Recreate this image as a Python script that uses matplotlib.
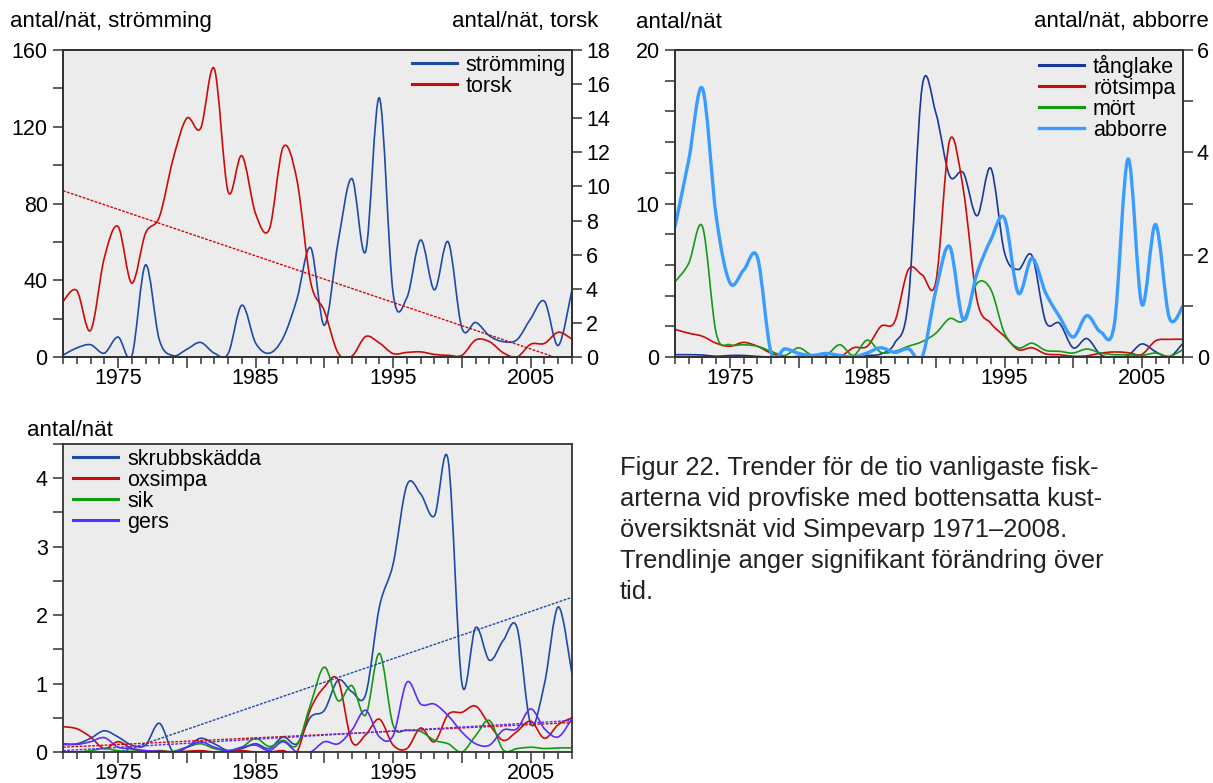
#!/usr/bin/env python
# -*- coding: utf-8 -*-
"""Fiskfångst per nät vid Simpevarp 1971-2008, tre paneler med trender."""

import matplotlib
matplotlib.use('Agg')
import matplotlib.pyplot as plt
from matplotlib.path import Path
from matplotlib.patches import PathPatch
from matplotlib.lines import Line2D

plt.rcParams['font.family'] = ['Liberation Sans', 'DejaVu Sans']

years = list(range(1971, 2009))

# panel 1: strömming (vänster axel), torsk (höger axel)
stromming = [1, 4.7, 6.4, 2, 10.4, 0.5, 48, 9, 0.7, 4, 7.6, 2, 1.7, 27, 7.3, 2,
             10, 30, 57, 16.5, 60, 93, 55, 135, 33, 31, 61, 35, 60, 15, 18, 11,
             8, 9, 20, 29, 6, 35]
torsk = [3.26, 3.9, 1.55, 5.8, 7.65, 4.33, 7.26, 8.2, 11.6, 14.0, 13.4, 16.9,
         9.7, 11.8, 8.4, 7.5, 12.3, 10.4, 4.4, 2.7, 0.23, 0.05, 1.2, 0.82, 0.2,
         0.27, 0.3, 0.15, 0.1, 0.1, 1.0, 0.9, 0.25, 0.0, 0.75, 0.8, 1.45, 1.05]
torsk_trend_years = [1971, 2008]
torsk_trend = [9.75, -0.35]

# panel 2: tånglake, rötsimpa, mört (vänster axel), abborre (höger axel)
tanglake = [0.15, 0.15, 0.13, 0.05, 0.1, 0.1, 0.04, 0, 0, 0, 0, 0, 0, 0, 0.1,
            0.2, 0.9, 3.7, 17.6, 15.9, 11.8, 12.0, 9.2, 12.3, 6.8, 5.7, 6.6,
            2.3, 2.2, 0.6, 1.2, 0.15, 0, 0.1, 0.85, 0.35, 0, 0.9]
rotsimpa = [1.8, 1.55, 1.35, 0.9, 0.7, 0.95, 0.7, 0.25, 0, 0.04, 0.05, 0, 0,
            0.6, 0.7, 2.0, 2.3, 5.7, 5.35, 4.9, 14.1, 10.9, 3.7, 2.2, 1.35,
            0.48, 0.6, 0.2, 0.15, 0.05, 0.08, 0.25, 0.33, 0.28, 0.17, 1.05,
            1.15, 1.15]
mort = [4.9, 6.1, 8.5, 1.55, 0.8, 0.8, 0.7, 0.37, 0.1, 0.6, 0.1, 0.1, 0.8, 0.1,
        1.1, 0.3, 0.37, 0.7, 1.0, 1.55, 2.5, 2.4, 4.8, 4.4, 1.55, 0.6, 0.9,
        0.43, 0.37, 0.26, 0.52, 0.26, 0.15, 0.15, 0.1, 0.26, 0.05, 0.48]
abborre = [2.55, 3.85, 5.25, 2.75, 1.45, 1.7, 1.95, 0.08, 0.16, 0.07, 0.03,
           0.07, 0.03, 0, 0.08, 0.18, 0.09, 0.16, 0, 1.3, 2.16, 0.73, 1.64,
           2.29, 2.71, 1.25, 1.93, 1.25, 0.79, 0.39, 0.81, 0.49, 0.64, 3.87,
           1.03, 2.59, 0.77, 1.0]

# panel 3: skrubbskädda, oxsimpa, sik, gers
skrubbskadda = [0.12, 0.12, 0.2, 0.31, 0.22, 0.1, 0.1, 0.42, 0, 0.07, 0.2,
                0.12, 0.02, 0.05, 0.12, 0.05, 0.22, 0.12, 0.51, 0.61, 1.05,
                0.88, 0.84, 2.12, 2.75, 3.9, 3.77, 3.45, 4.26, 1.0, 1.82, 1.34,
                1.63, 1.82, 0.41, 1.0, 2.12, 1.14]
oxsimpa = [0.37, 0.34, 0.22, 0.05, 0.15, 0.05, 0, 0.02, 0, 0.01, 0.02, 0, 0,
           0.02, 0, 0, 0.02, 0, 0.63, 0.95, 1.05, 0.15, 0.25, 0.48, 0.1, 0.05,
           0.35, 0.15, 0.55, 0.58, 0.67, 0.4, 0.17, 0.3, 0.45, 0.2, 0.4, 0.5]
sik = [0, 0, 0.02, 0.05, 0.02, 0.01, 0.01, 0.01, 0.01, 0.07, 0.12, 0.05, 0.02,
       0.07, 0.2, 0.08, 0.17, 0.1, 0.7, 1.24, 0.75, 0.97, 0.54, 1.44, 0.39,
       0.32, 0.3, 0.17, 0.12, 0, 0.24, 0.46, 0.03, 0.05, 0.07, 0.05, 0.06,
       0.06]
gers = [0.11, 0.11, 0.15, 0.21, 0.07, 0.05, 0.02, 0.01, 0, 0.07, 0.15, 0.07,
        0.02, 0.07, 0.1, 0.02, 0.15, 0, 0, 0.15, 0.12, 0.32, 0.61, 0.22, 0.24,
        1.02, 0.7, 0.7, 0.53, 0.29, 0.12, 0.1, 0.32, 0.34, 0.63, 0.34, 0.22,
        0.49]
trend_years = [1971, 2008]
skrubbskadda_trend = [-0.29, 2.26]
oxsimpa_trend = [0.07, 0.43]
gers_trend = [0.02, 0.46]

caption = ('Figur 22. Trender för de tio vanligaste fisk-\n'
           'arterna vid provfiske med bottensatta kust-\n'
           'översiktsnät vid Simpevarp 1971–2008.\n'
           'Trendlinje anger signifikant förändring över\n'
           'tid.')

FS_TITLE = 16
FS_TICK = 15.5
FS_LEG = 15.5
FS_CAP = 18.4
BG = '#ececec'
SPINE = '#333333'
DARKBLUE = '#1d4aa6'
NAVY = '#17389a'
RED = '#cc0a0a'
GREEN = '#139a13'
LIGHTBLUE = '#3a9cff'
PURPLE = '#5a2cff'


def smooth_line(ax, x, y, color, lw):
    """Draw y(x) as a Catmull-Rom curve made of cubic Bezier segments."""
    n = len(x)
    verts = [(x[0], y[0])]
    codes = [Path.MOVETO]
    for i in range(n - 1):
        i0 = max(i - 1, 0)
        i3 = min(i + 2, n - 1)
        c1 = (x[i] + (x[i + 1] - x[i0]) / 6.0, y[i] + (y[i + 1] - y[i0]) / 6.0)
        c2 = (x[i + 1] - (x[i3] - x[i]) / 6.0,
              y[i + 1] - (y[i3] - y[i]) / 6.0)
        verts += [c1, c2, (x[i + 1], y[i + 1])]
        codes += [Path.CURVE4] * 3
    ax.add_patch(PathPatch(Path(verts, codes), fill=False, edgecolor=color,
                           lw=lw, joinstyle='round', capstyle='round'))
    return Line2D([], [], color=color, lw=max(lw, 2.2))


def style_axes(ax, yticks, ylabels):
    ax.set_facecolor(BG)
    ax.set_xlim(1971, 2008)
    major = list(range(1975, 2009, 5))
    ax.set_xticks(major)
    ax.set_xticklabels([str(y) if y % 10 == 5 else '' for y in major])
    ax.set_xticks(years, minor=True)
    ax.tick_params(axis='x', which='major', length=8, width=1.1,
                   direction='out', labelsize=FS_TICK, pad=0, color=SPINE)
    ax.tick_params(axis='x', which='minor', length=5, width=1.1,
                   direction='out', color=SPINE)
    ax.set_yticks(yticks)
    ax.set_yticklabels(ylabels)
    ax.tick_params(axis='y', length=7, width=1.1, direction='out',
                   labelsize=FS_TICK, pad=4, color=SPINE)
    for sp in ax.spines.values():
        sp.set_color(SPINE)
        sp.set_linewidth(1.3)


def right_axis(ax, ymax, yticks, ylabels):
    ax2 = ax.twinx()
    ax2.set_ylim(0, ymax)
    ax2.set_yticks(yticks)
    ax2.set_yticklabels(ylabels)
    ax2.tick_params(axis='y', length=7, width=1.1, direction='out',
                    labelsize=FS_TICK, pad=3, color=SPINE)
    for sp in ax2.spines.values():
        sp.set_color(SPINE)
        sp.set_linewidth(1.3)
    return ax2


def legend(ax, handles, labels, loc, anchor):
    ax.legend(handles, labels, loc=loc, bbox_to_anchor=anchor, frameon=False,
              fontsize=FS_LEG, handlelength=2.1, handletextpad=0.4,
              labelspacing=0.0, borderpad=0.0, borderaxespad=0.0)


def main():
    fig = plt.figure(figsize=(12.13, 7.83), dpi=100)

    # strömming och torsk
    ax1 = fig.add_axes([63 / 1213, 1 - 357 / 783, 509 / 1213, 307 / 783])
    ax1.set_ylim(0, 160)
    style_axes(ax1, range(0, 161, 20),
               [str(v) if v % 40 == 0 else '' for v in range(0, 161, 20)])
    h1 = smooth_line(ax1, years, stromming, DARKBLUE, 1.2)
    ax1r = right_axis(ax1, 18, range(0, 19, 2),
                      [str(v) for v in range(0, 19, 2)])
    h2 = smooth_line(ax1r, years, torsk, RED, 1.2)
    ax1r.plot(torsk_trend_years, torsk_trend, color=RED, lw=1.0,
              dashes=(2, 1))
    legend(ax1r, [h1, h2], ['strömming', 'torsk'], 'upper right',
           (0.988, 0.985))
    fig.text(10 / 1213, 1 - 22 / 783, 'antal/nät, strömming',
             fontsize=FS_TITLE, va='center', ha='left')
    fig.text(598 / 1213, 1 - 22 / 783, 'antal/nät, torsk', fontsize=FS_TITLE,
             va='center', ha='right')

    # tånglake, rötsimpa, mört och abborre
    ax2 = fig.add_axes([675 / 1213, 1 - 357 / 783, 508 / 1213, 307 / 783])
    ax2.set_ylim(0, 20)
    style_axes(ax2, range(0, 21, 2),
               [str(v) if v % 10 == 0 else '' for v in range(0, 21, 2)])
    hs = [smooth_line(ax2, years, tanglake, NAVY, 1.2),
          smooth_line(ax2, years, rotsimpa, RED, 1.2),
          smooth_line(ax2, years, mort, GREEN, 1.2)]
    ax2r = right_axis(ax2, 6, range(0, 7),
                      [str(v) if v % 2 == 0 else '' for v in range(0, 7)])
    hs.append(smooth_line(ax2r, years, abborre, LIGHTBLUE, 2.4))
    legend(ax2r, hs, ['tånglake', 'rötsimpa', 'mört', 'abborre'],
           'upper right', (0.985, 0.985))
    fig.text(636 / 1213, 1 - 22 / 783, 'antal/nät', fontsize=FS_TITLE,
             va='center', ha='left')
    fig.text(1209 / 1213, 1 - 22 / 783, 'antal/nät, abborre',
             fontsize=FS_TITLE, va='center', ha='right')

    # skrubbskädda, oxsimpa, sik och gers
    ax3 = fig.add_axes([63 / 1213, 1 - 752 / 783, 509 / 1213, 308 / 783])
    ax3.set_ylim(0, 4.5)
    ticks3 = [v / 2 for v in range(10)]
    style_axes(ax3, ticks3,
               [str(int(v)) if v == int(v) else '' for v in ticks3])
    hs = [smooth_line(ax3, years, skrubbskadda, DARKBLUE, 1.2),
          smooth_line(ax3, years, oxsimpa, RED, 1.2),
          smooth_line(ax3, years, sik, GREEN, 1.2),
          smooth_line(ax3, years, gers, PURPLE, 1.2)]
    ax3.plot(trend_years, skrubbskadda_trend, color=DARKBLUE, lw=1.0,
             dashes=(2, 1))
    ax3.plot(trend_years, oxsimpa_trend, color=RED, lw=1.0, dashes=(2, 1))
    ax3.plot(trend_years, gers_trend, color=PURPLE, lw=1.0, dashes=(2, 1))
    ax3.set_ylim(0, 4.5)
    legend(ax3, hs, ['skrubbskädda', 'oxsimpa', 'sik', 'gers'], 'upper left',
           (0.02, 0.985))
    fig.text(27 / 1213, 1 - 430 / 783, 'antal/nät', fontsize=FS_TITLE,
             va='center', ha='left')

    fig.text(620 / 1213, 1 - 456 / 783, caption, fontsize=FS_CAP, va='top',
             ha='left', color='#222222', linespacing=1.37)

    fig.savefig('out.png', dpi=100)
    plt.close(fig)


if __name__ == '__main__':
    main()
